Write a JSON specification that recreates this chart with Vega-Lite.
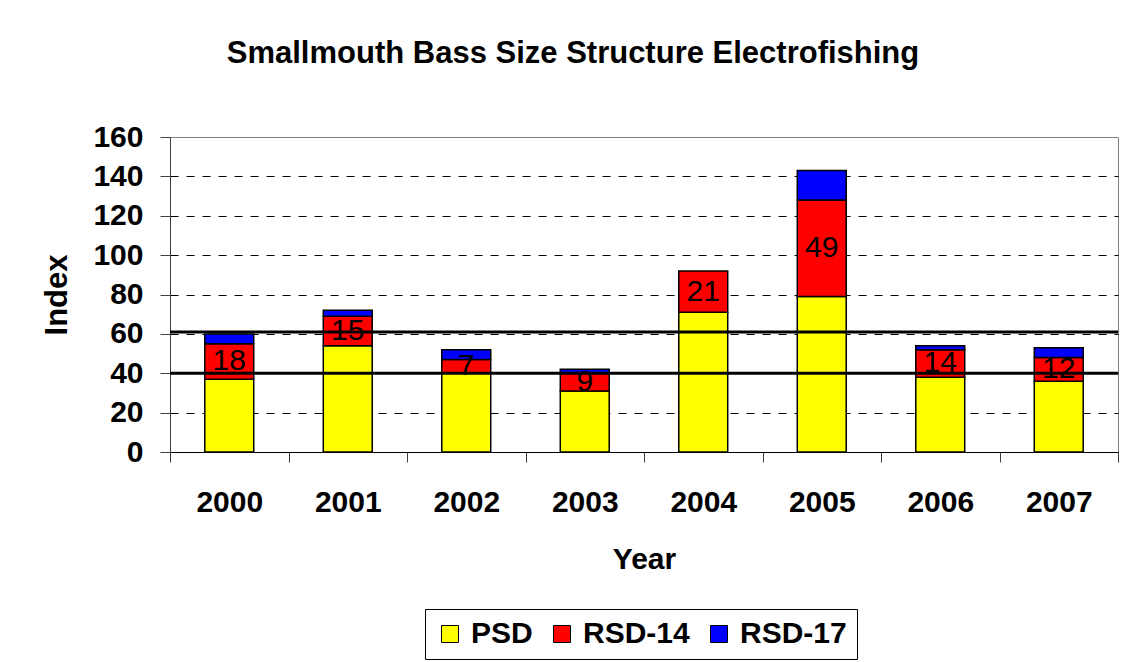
{
  "$schema": "https://vega.github.io/schema/vega-lite/v6.json",
  "width": 948,
  "height": 315,
  "autosize": {"type": "none"},
  "padding": {"left": 170, "top": 137, "right": 11, "bottom": 210},
  "background": "white",
  "title": {
    "text": "Smallmouth Bass Size Structure Electrofishing",
    "font": "Liberation Sans",
    "fontSize": 31,
    "fontWeight": "bold",
    "color": "black",
    "anchor": "middle",
    "dx": -71,
    "baseline": "alphabetic",
    "offset": 28
  },
  "datasets": {
    "bass": [
      {"year": "2000", "series": "PSD", "value": 37},
      {"year": "2000", "series": "RSD-14", "value": 18},
      {"year": "2000", "series": "RSD-17", "value": 5},
      {"year": "2001", "series": "PSD", "value": 54},
      {"year": "2001", "series": "RSD-14", "value": 15},
      {"year": "2001", "series": "RSD-17", "value": 3},
      {"year": "2002", "series": "PSD", "value": 40},
      {"year": "2002", "series": "RSD-14", "value": 7},
      {"year": "2002", "series": "RSD-17", "value": 5},
      {"year": "2003", "series": "PSD", "value": 31},
      {"year": "2003", "series": "RSD-14", "value": 9},
      {"year": "2003", "series": "RSD-17", "value": 2},
      {"year": "2004", "series": "PSD", "value": 71},
      {"year": "2004", "series": "RSD-14", "value": 21},
      {"year": "2005", "series": "PSD", "value": 79},
      {"year": "2005", "series": "RSD-14", "value": 49},
      {"year": "2005", "series": "RSD-17", "value": 15},
      {"year": "2006", "series": "PSD", "value": 38},
      {"year": "2006", "series": "RSD-14", "value": 14},
      {"year": "2006", "series": "RSD-17", "value": 2},
      {"year": "2007", "series": "PSD", "value": 36},
      {"year": "2007", "series": "RSD-14", "value": 12},
      {"year": "2007", "series": "RSD-17", "value": 5}
    ],
    "refs": [{"ref": 40}, {"ref": 61}]
  },
  "layer": [
    {
      "data": {"name": "bass"},
      "mark": {"type": "bar", "stroke": "black", "strokeWidth": 1.5, "width": {"band": 0.413}},
      "encoding": {
        "x": {
          "field": "year",
          "type": "ordinal",
          "title": "Year",
          "scale": {"paddingInner": 0, "paddingOuter": 0},
          "axis": {"labelAngle": 0, "tickBand": "extent", "ticks": true}
        },
        "y": {
          "field": "value",
          "type": "quantitative",
          "stack": "zero",
          "title": "Index",
          "scale": {"domain": [0, 160], "nice": false},
          "axis": {"values": [0, 20, 40, 60, 80, 100, 120, 140, 160], "tickCount": 10, "labelOverlap": false, "gridOpacity": {"condition": {"test": "datum.value === 160 || datum.value === 0", "value": 0}, "value": 1}}
        },
        "order": {"field": "series", "type": "nominal", "sort": "ascending"},
        "color": {
          "field": "series",
          "type": "nominal",
          "scale": {"domain": ["PSD", "RSD-14", "RSD-17"], "range": ["#FFFF00", "#FF0000", "#0000FF"]},
          "legend": {
            "title": null,
            "orient": "none",
            "legendX": 255,
            "legendY": 472,
            "direction": "horizontal",
            "symbolType": "square",
            "symbolSize": 289,
            "symbolStrokeColor": "black",
            "symbolStrokeWidth": 1,
            "symbolOpacity": 1,
            "labelFontSize": 30,
            "labelFontWeight": "bold",
            "labelColor": "black",
            "labelOffset": 6,
            "columnPadding": 14,
            "padding": 10,
            "strokeColor": "black",
            "fillColor": "white"
          }
        }
      }
    },
    {
      "data": {"name": "refs"},
      "mark": {"type": "rule", "color": "black", "strokeWidth": 3},
      "encoding": {
        "y": {"field": "ref", "type": "quantitative", "title": "Index", "axis": {"values": [0, 20, 40, 60, 80, 100, 120, 140, 160], "tickCount": 10, "labelOverlap": false, "gridOpacity": {"condition": {"test": "datum.value === 160 || datum.value === 0", "value": 0}, "value": 1}}}
      }
    },
    {
      "data": {"name": "bass"},
      "mark": {"type": "text", "font": "Liberation Sans", "fontSize": 30, "color": "black", "baseline": "middle"},
      "encoding": {
        "x": {"field": "year", "type": "ordinal", "title": "Year", "axis": {"labelAngle": 0, "tickBand": "extent", "ticks": true}},
        "y": {"field": "value", "type": "quantitative", "stack": "zero", "bandPosition": 0.5, "title": "Index", "axis": {"values": [0, 20, 40, 60, 80, 100, 120, 140, 160], "tickCount": 10, "labelOverlap": false, "gridOpacity": {"condition": {"test": "datum.value === 160 || datum.value === 0", "value": 0}, "value": 1}}},
        "detail": {"field": "series", "type": "nominal"},
        "order": {"field": "series", "type": "nominal", "sort": "ascending"},
        "text": {"field": "value", "type": "quantitative", "condition": {"test": "datum.series !== 'RSD-14'", "value": ""}}
      }
    }
  ],
  "config": {
    "font": "Liberation Sans",
    "view": {"stroke": "#808080", "strokeWidth": 1},
    "axisX": {
      "ticks": true,
      "tickSize": 10,
      "tickWidth": 1,
      "tickColor": "#404040",
      "domainColor": "#000000",
      "grid": false,
      "labelFontSize": 30,
      "labelFontWeight": "bold",
      "labelColor": "black",
      "labelPadding": 25,
      "titleFontSize": 30,
      "titleFontWeight": "bold",
      "titleColor": "black",
      "titlePadding": 27
    },
    "axisY": {
      "grid": true,
      "gridColor": "#000000",
      "gridDash": [8, 8],
      "gridWidth": 1,
      "domainColor": "#404040",
      "tickColor": "#404040",
      "tickSize": 10,
      "labelFontSize": 30,
      "labelFontWeight": "bold",
      "labelColor": "black",
      "labelPadding": 17,
      "titleFontSize": 31,
      "titleFontWeight": "bold",
      "titleColor": "black",
      "titlePadding": 19
    }
  }
}
